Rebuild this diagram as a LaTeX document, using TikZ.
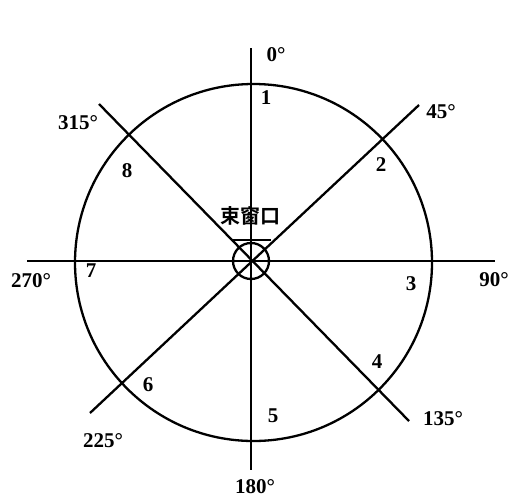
\documentclass[tikz,border=0pt]{standalone}
\usepackage{fontspec}
\setmainfont{Liberation Serif}
\newfontfamily\cjk{Noto Sans CJK SC}[BoldFont={* Bold}]
\begin{document}
\begin{tikzpicture}[x=1pt,y=-1pt,
  ln/.style={line width=2.3pt,black},
  lbl/.style={font=\fontsize{21}{21}\selectfont\bfseries,inner sep=0pt,anchor=center}]
\useasboundingbox (0,0) rectangle (510,501);
\coordinate (C) at (251,261);
\coordinate (N) at (251,48);
\coordinate (S) at (251,470);
\coordinate (W) at (27,261);
\coordinate (E) at (495,261);
\coordinate (NE) at (419,105);
\coordinate (NW) at (99,104);
\coordinate (SW) at (90,413);
\coordinate (SE) at (409,421);
\coordinate (O) at (253.5,262.5);
\draw[ln] (O) circle[radius=178.5];
\draw[ln] (N) -- (S);
\draw[ln] (W) -- (E);
\draw[ln] (NE) -- (SW);
\draw[ln] (NW) -- (SE);
\draw[ln] (C) circle[radius=18];
\coordinate (BL) at (231,240);
\coordinate (BR) at (271,240);
\draw[ln] (BL) -- (BR);
\node[inner sep=0pt] (win) at (250,216) {\cjk\bfseries\fontsize{20}{20}\selectfont 束窗口};
\node[lbl] (d0) at (276,55) {0°};
\node[lbl] (d45) at (441,112) {45°};
\node[lbl] (d90) at (494,280) {90°};
\node[lbl] (d135) at (443,419) {135°};
\node[lbl] (d180) at (255,487) {180°};
\node[lbl] (d225) at (103,441) {225°};
\node[lbl] (d270) at (31,281) {270°};
\node[lbl] (d315) at (78,123) {315°};
\node[lbl] (n1) at (266,98) {1};
\node[lbl] (n2) at (381,165) {2};
\node[lbl] (n3) at (411,284) {3};
\node[lbl] (n4) at (377,362) {4};
\node[lbl] (n5) at (273,416) {5};
\node[lbl] (n6) at (148,385) {6};
\node[lbl] (n7) at (91,271) {7};
\node[lbl] (n8) at (127,171) {8};
\end{tikzpicture}
\end{document}
